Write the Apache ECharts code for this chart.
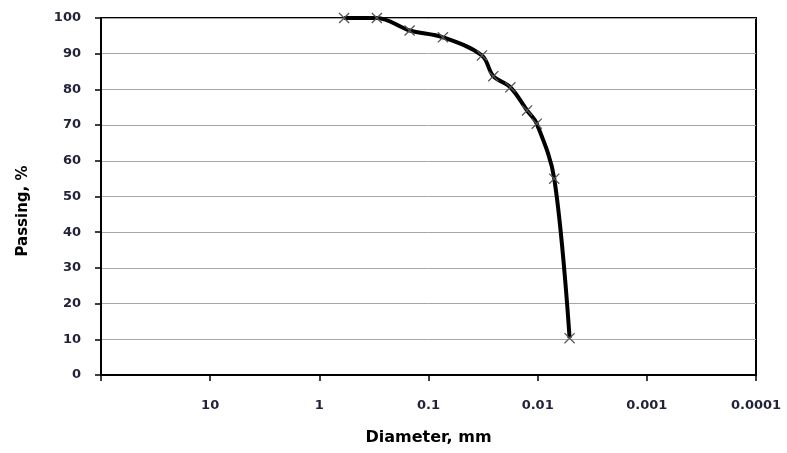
<!DOCTYPE html>
<html>
<head>
<meta charset="utf-8">
<script src="https://cdn.jsdelivr.net/npm/echarts@6/dist/echarts.min.js"></script>
<style>html,body{margin:0;padding:0;background:#fff}#c{width:787px;height:453px}</style>
</head>
<body>
<div id="c"></div>
<script>
// Data
var diameters = [0.593, 0.297, 0.149, 0.0738, 0.0324, 0.0255, 0.0178, 0.0125, 0.0102, 0.00705, 0.0051];
var passing   = [100, 100, 96.5, 94.6, 89.5, 83.7, 80.6, 74.1, 70.4, 55.0, 10.3];
var xTickValues = [100, 10, 1, 0.1, 0.01, 0.001, 0.0001];
var xTickLabels = ['', '10', '1', '0.1', '0.01', '0.001', '0.0001'];
var yTickLabels = ['0','10','20','30','40','50','60','70','80','90','100'];
var xTitle = 'Diameter, mm';
var yTitle = 'Passing, %';

var chart = echarts.init(document.getElementById('c'), null, {renderer: 'canvas'});
var labelFont = {fontFamily: 'DejaVu Sans', fontSize: 13, fontWeight: 'bold', color: '#22223a'};
var seriesData = diameters.map(function (d, i) { return [d, passing[i]]; });

chart.setOption({
  animation: false,
  backgroundColor: '#fff',
  grid: {left: 101, right: 31, top: 18, bottom: 78, show: true, borderColor: '#000', borderWidth: 2, containLabel: false},
  xAxis: {
    type: 'log', logBase: 10, min: 0.0001, max: 100, inverse: true,
    name: xTitle, nameLocation: 'middle', nameGap: 55,
    nameTextStyle: {fontFamily: 'DejaVu Sans', fontSize: 16, fontWeight: 'bold', color: '#000'},
    axisLine: {show: true, onZero: false, lineStyle: {color: '#000', width: 2}},
    axisTick: {show: true, length: 6, inside: false, lineStyle: {color: '#000', width: 1.5}},
    axisLabel: Object.assign({margin: 24, showMinLabel: true, showMaxLabel: true,
      formatter: function (v) {
        var e = Math.round(Math.log10(v));
        for (var i = 0; i < xTickValues.length; i++) {
          if (Math.round(Math.log10(xTickValues[i])) === e) return xTickLabels[i];
        }
        return '';
      }}, labelFont),
    splitLine: {show: false}, minorTick: {show: false}
  },
  yAxis: {
    type: 'value', min: 0, max: 100, interval: 10,
    axisLine: {show: true, lineStyle: {color: '#000', width: 2}},
    axisTick: {show: true, length: 6, inside: false, lineStyle: {color: '#000', width: 1.5}},
    axisLabel: Object.assign({margin: 20, formatter: function (v) { return yTickLabels[Math.round(v / 10)]; }}, labelFont),
    splitLine: {show: true, lineStyle: {color: '#a6a6a6', width: 1}}
  },
  graphic: [{
    type: 'text', x: 23, y: 211, rotation: Math.PI / 2,
    style: {text: yTitle, fontFamily: 'DejaVu Sans', fontSize: 15, fontWeight: 'bold', fill: '#000', align: 'center', verticalAlign: 'middle'}
  }],
  series: [{
    type: 'line', data: seriesData, smooth: 0.35,
    lineStyle: {color: '#000', width: 4},
    symbol: 'path://M0,0.8L0.8,0L5,4.2L9.2,0L10,0.8L5.8,5L10,9.2L9.2,10L5,5.8L0.8,10L0,9.2L4.2,5Z',
    symbolSize: 11, showSymbol: true,
    itemStyle: {color: '#555'}, z: 3
  }]
});
</script>
</body>
</html>
